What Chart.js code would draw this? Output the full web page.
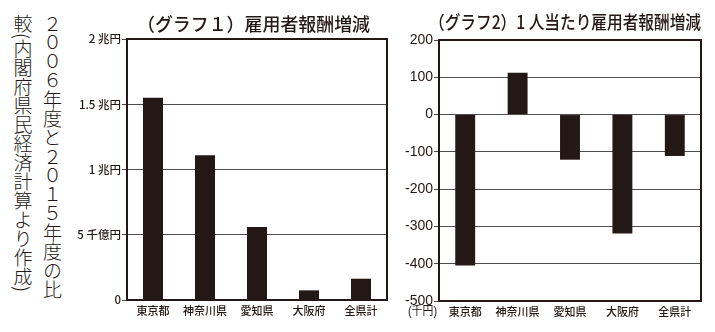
<!DOCTYPE html>
<html>
<head>
<meta charset="utf-8">
<script src="https://cdn.jsdelivr.net/npm/chart.js@4/dist/chart.umd.min.js"></script>
<style>
body { margin:0; background:#fff; width:715px; height:332px; position:relative; overflow:hidden; }
#note { position:absolute; left:8px; top:14px; height:300px; width:59px; writing-mode:vertical-rl; font:300 19px "Noto Sans CJK JP"; line-height:29.5px; color:#231815; }
#wrap1 { position:absolute; left:70px; top:0; width:320px; height:332px; }
#wrap2 { position:absolute; left:390px; top:0; width:325px; height:332px; }
</style>
</head>
<body>
<div id="note">２００６年度と２０１５年度の比<br>較(内閣府県民経済計算より作成)</div>
<div id="wrap1"><canvas id="grafik1"></canvas></div>
<div id="wrap2"><canvas id="grafik2"></canvas></div>
<script>
const kategori = ['東京都', '神奈川県', '愛知県', '大阪府', '全県計'];
// 雇用者報酬増減（兆円）
const nilaiTotal = [1.55, 1.11, 0.56, 0.074, 0.163];
// 1人当たり雇用者報酬増減（千円）
const nilaiPerOrang = [-405, 112, -121, -319, -111];
const labelSumbuY1 = ['0', '5 千億円', '1 兆円', '1.5 兆円', '2 兆円'];
const judul1 = '（グラフ１）雇用者報酬増減';
const judul2 = '（グラフ2）1 人当たり雇用者報酬増減';
const satuan2 = '(千円)';

const hitam = '#231815';
const abu = '#4d4d4d';
const hurufJP = '"Noto Sans CJK JP", sans-serif';

function pluginJudul(teks, cx, cy, lebar) {
    return {
        id: 'judul',
        afterDraw(chart) {
            const ctx = chart.ctx;
            ctx.save();
            ctx.fillStyle = hitam;
            ctx.font = '500 18px ' + hurufJP;
            ctx.textAlign = 'center'; ctx.textBaseline = 'middle';
            ctx.fillText(teks, cx, cy, lebar);
            ctx.restore();
        }
    };
}

const pluginBingkai = {
    id: 'bingkai',
    afterDraw(chart) {
        const a = chart.chartArea, ctx = chart.ctx;
        ctx.save();
        ctx.strokeStyle = hitam; ctx.lineWidth = 2;
        ctx.strokeRect(a.left, a.top, a.right - a.left, a.bottom - a.top);
        ctx.restore();
    }
};

const pluginSatuan = {
    id: 'satuan',
    afterDraw(chart) {
        const y = chart.scales.y, ctx = chart.ctx;
        ctx.save();
        ctx.fillStyle = hitam;
        ctx.font = '12px "Liberation Sans", ' + hurufJP;
        ctx.textAlign = 'right'; ctx.textBaseline = 'middle';
        ctx.fillText(satuan2, y.right - 2, y.getPixelForValue(-500) + 11, 29);
        ctx.restore();
    }
};

function opsiSkala(lebarY, tinggiX, min, max, langkah, labelFn, hurufY) {
    return {
        x: {
            grid: { display: false, drawTicks: false },
            border: { display: false },
            ticks: { color: hitam, font: { family: hurufJP, size: 11, weight: '500' }, padding: 4, maxRotation: 0 },
            afterFit: s => { s.height = tinggiX; }
        },
        y: {
            min: min, max: max,
            grid: { color: abu, lineWidth: 1, tickLength: 5 },
            border: { display: false },
            ticks: { stepSize: langkah, color: hitam, font: hurufY, padding: 1, callback: labelFn },
            afterFit: s => { s.width = lebarY; }
        }
    };
}

new Chart(document.getElementById('grafik1'), {
    type: 'bar',
    data: { labels: kategori, datasets: [{ data: nilaiTotal, backgroundColor: hitam, barPercentage: 0.385, categoryPercentage: 1 }] },
    options: {
        responsive: true, maintainAspectRatio: false, animation: false,
        layout: { padding: { top: 39, right: 3, left: 0, bottom: 0 } },
        plugins: { legend: { display: false }, tooltip: { enabled: false } },
        scales: opsiSkala(57, 32, 0, 2, 0.5, v => labelSumbuY1[Math.round(v / 0.5)],
            { family: hurufJP, size: 11.5, weight: '500' })
    },
    plugins: [pluginBingkai, pluginJudul(judul1, 183.5, 24, 233)]
});

new Chart(document.getElementById('grafik2'), {
    type: 'bar',
    data: { labels: kategori, datasets: [{ data: nilaiPerOrang, backgroundColor: hitam, barPercentage: 0.38, categoryPercentage: 1 }] },
    options: {
        responsive: true, maintainAspectRatio: false, animation: false,
        layout: { padding: { top: 40, right: 14, left: 0, bottom: 0 } },
        plugins: { legend: { display: false }, tooltip: { enabled: false } },
        scales: opsiSkala(49, 31, -500, 200, 100, v => String(v),
            { family: '"Liberation Sans", sans-serif', size: 14 })
    },
    plugins: [pluginBingkai, pluginSatuan, pluginJudul(judul2, 175, 22.5, 272)]
});
</script>
</body>
</html>
